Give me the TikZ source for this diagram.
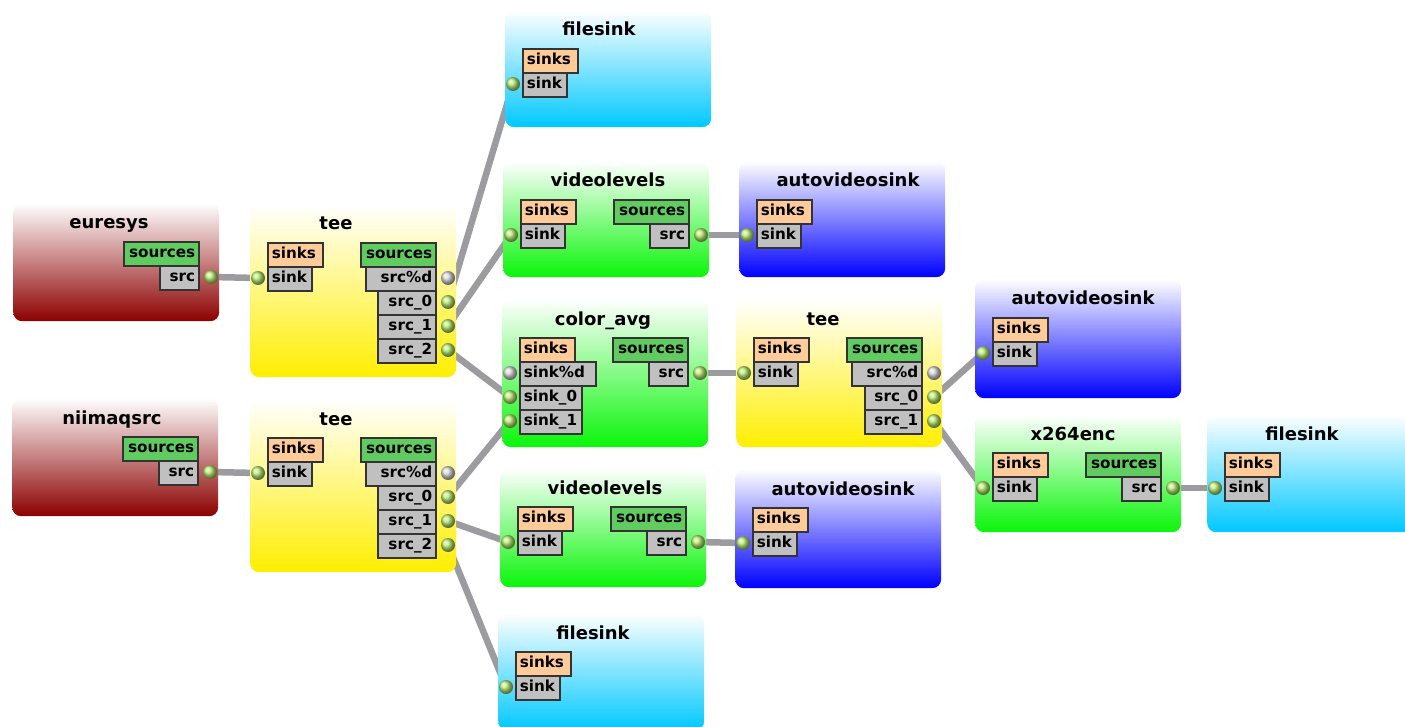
\documentclass[tikz,border=0pt]{standalone}
\usepackage{fontspec}
\setmainfont{DejaVu Sans}
\usetikzlibrary{positioning,backgrounds}
\definecolor{sinkfill}{RGB}{255,204,153}
\definecolor{srcfill}{RGB}{96,204,96}
\definecolor{padgray}{RGB}{192,192,192}
\definecolor{dotgreen}{RGB}{185,235,115}
\definecolor{dotgray}{RGB}{215,215,215}
\definecolor{linkgray}{RGB}{155,155,160}
\definecolor{elred}{RGB}{140,0,0}
\definecolor{elyellow}{RGB}{255,238,0}
\definecolor{elgreen}{RGB}{10,245,10}
\definecolor{elblue}{RGB}{0,0,255}
\definecolor{elcyan}{RGB}{0,200,255}
\newcommand{\titlefont}{\fontsize{18}{20}\selectfont\bfseries}
\newcommand{\padfont}{\fontsize{15.2}{16}\selectfont\bfseries}
\tikzset{
  element/.style={rectangle, rounded corners=9pt, anchor=north west,
    minimum width=206pt, inner sep=0pt, top color=white, bottom color=#1},
  eltitle/.style={font=\titlefont, anchor=base, inner sep=0pt},
  pad/.style={draw=black!80, line width=1.6pt, fill=padgray, minimum height=24pt,
    inner ysep=0pt, inner xsep=4pt, text height=11pt, text depth=3pt, font=\padfont},
  lpad/.style={pad, anchor=north west, align=left, text width=#1},
  rpad/.style={pad, anchor=north east, align=right, text width=#1},
  dot/.style={circle, minimum size=14pt, inner sep=0pt, shading=ball, ball color=dotgreen},
  dotoff/.style={dot, ball color=dotgray},
  link/.style={draw=linkgray, line width=6.5pt}
}
\newcommand{\gstelem}[5]{%
  \node[element=#2, minimum height=#3pt] (#1) at (0,0) {};
  \node[eltitle] (#1-title) at (#4,26) {#5};}
\newcommand{\sinkside}[1]{\node[lpad=47pt, fill=sinkfill] (#1-sinks) at (17,38) {sinks};}
\newcommand{\srcside}[1]{\node[rpad=67pt, fill=srcfill] (#1-sources) at (187,38) {sources};}
\newcommand{\inport}[6]{%
  \node[lpad=#4] (#1-#2-pad) at (17,{38+24*#3}) {#5};
  \node[#6] (#1-#2) at (8,{50+24*#3}) {};}
\newcommand{\outport}[6]{%
  \node[rpad=#4] (#1-#2-pad) at (187,{38+24*#3}) {#5};
  \node[#6] (#1-#2) at (198,{50+24*#3}) {};}

\begin{document}
\begin{tikzpicture}[x=1pt,y=-1pt]
\useasboundingbox (0,0) rectangle (1405,727);

\begin{scope}[shift={(13,203)}]
  \gstelem{euresys}{elred}{118}{96}{euresys}
  \srcside{euresys}
  \outport{euresys}{src}{1}{31pt}{src}{dot}
\end{scope}

\begin{scope}[shift={(250,204)}]
  \gstelem{teeA}{elyellow}{173}{86}{tee}
  \sinkside{teeA}
  \inport{teeA}{sink}{1}{36pt}{sink}{dot}
  \srcside{teeA}
  \outport{teeA}{srcd}{1}{62pt}{src\%d}{dotoff}
  \outport{teeA}{src0}{2}{50pt}{src\_0}{dot}
  \outport{teeA}{src1}{3}{50pt}{src\_1}{dot}
  \outport{teeA}{src2}{4}{50pt}{src\_2}{dot}
\end{scope}

\begin{scope}[shift={(12,398)}]
  \gstelem{niimaq}{elred}{118}{100}{niimaqsrc}
  \srcside{niimaq}
  \outport{niimaq}{src}{1}{31pt}{src}{dot}
\end{scope}

\begin{scope}[shift={(250,399)}]
  \gstelem{teeB}{elyellow}{173}{86}{tee}
  \sinkside{teeB}
  \inport{teeB}{sink}{1}{36pt}{sink}{dot}
  \srcside{teeB}
  \outport{teeB}{srcd}{1}{62pt}{src\%d}{dotoff}
  \outport{teeB}{src0}{2}{50pt}{src\_0}{dot}
  \outport{teeB}{src1}{3}{50pt}{src\_1}{dot}
  \outport{teeB}{src2}{4}{50pt}{src\_2}{dot}
\end{scope}

\begin{scope}[shift={(505,10)}]
  \gstelem{fsinkA}{elcyan}{117}{94}{filesink}
  \sinkside{fsinkA}
  \inport{fsinkA}{sink}{1}{36pt}{sink}{dot}
\end{scope}

\begin{scope}[shift={(503,161)}]
  \gstelem{vlevA}{elgreen}{116}{105}{videolevels}
  \sinkside{vlevA}
  \inport{vlevA}{sink}{1}{36pt}{sink}{dot}
  \srcside{vlevA}
  \outport{vlevA}{src}{1}{31pt}{src}{dot}
\end{scope}

\begin{scope}[shift={(739,161)}]
  \gstelem{avsinkA}{elblue}{116}{109}{autovideosink}
  \sinkside{avsinkA}
  \inport{avsinkA}{sink}{1}{36pt}{sink}{dot}
\end{scope}

\begin{scope}[shift={(502,299)}]
  \gstelem{cavg}{elgreen}{148}{101}{color\_avg}
  \sinkside{cavg}
  \inport{cavg}{sinkd}{1}{68pt}{sink\%d}{dotoff}
  \inport{cavg}{sink0}{2}{54pt}{sink\_0}{dot}
  \inport{cavg}{sink1}{3}{54pt}{sink\_1}{dot}
  \srcside{cavg}
  \outport{cavg}{src}{1}{31pt}{src}{dot}
\end{scope}

\begin{scope}[shift={(736,299)}]
  \gstelem{teeC}{elyellow}{148}{87}{tee}
  \sinkside{teeC}
  \inport{teeC}{sink}{1}{36pt}{sink}{dot}
  \srcside{teeC}
  \outport{teeC}{srcd}{1}{62pt}{src\%d}{dotoff}
  \outport{teeC}{src0}{2}{49pt}{src\_0}{dot}
  \outport{teeC}{src1}{3}{49pt}{src\_1}{dot}
\end{scope}

\begin{scope}[shift={(975,279)}]
  \gstelem{avsinkB}{elblue}{119}{108}{autovideosink}
  \sinkside{avsinkB}
  \inport{avsinkB}{sink}{1}{36pt}{sink}{dot}
\end{scope}

\begin{scope}[shift={(975,414)}]
  \gstelem{xenc}{elgreen}{118}{98}{x264enc}
  \sinkside{xenc}
  \inport{xenc}{sink}{1}{36pt}{sink}{dot}
  \srcside{xenc}
  \outport{xenc}{src}{1}{31pt}{src}{dot}
\end{scope}

\begin{scope}[shift={(1207,414)}]
  \gstelem{fsinkB}{elcyan}{118}{95}{filesink}
  \sinkside{fsinkB}
  \inport{fsinkB}{sink}{1}{36pt}{sink}{dot}
\end{scope}

\begin{scope}[shift={(500,468)}]
  \gstelem{vlevB}{elgreen}{119}{105}{videolevels}
  \sinkside{vlevB}
  \inport{vlevB}{sink}{1}{36pt}{sink}{dot}
  \srcside{vlevB}
  \outport{vlevB}{src}{1}{31pt}{src}{dot}
\end{scope}

\begin{scope}[shift={(735,469)}]
  \gstelem{avsinkC}{elblue}{119}{108}{autovideosink}
  \sinkside{avsinkC}
  \inport{avsinkC}{sink}{1}{36pt}{sink}{dot}
\end{scope}

\begin{scope}[shift={(498,613)}]
  \gstelem{fsinkC}{elcyan}{117}{95}{filesink}
  \sinkside{fsinkC}
  \inport{fsinkC}{sink}{1}{36pt}{sink}{dot}
\end{scope}

\begin{scope}[on background layer]
  \foreach \a/\b in {euresys-src/teeA-sink, teeA-src0/fsinkA-sink,
      teeA-src1/vlevA-sink, teeA-src2/cavg-sink0, niimaq-src/teeB-sink,
      teeB-src0/cavg-sink1, teeB-src1/vlevB-sink, teeB-src2/fsinkC-sink,
      vlevA-src/avsinkA-sink, vlevB-src/avsinkC-sink, cavg-src/teeC-sink,
      teeC-src0/avsinkB-sink, teeC-src1/xenc-sink, xenc-src/fsinkB-sink}
    \draw[link] (\a.center) -- (\b.center);
\end{scope}
\end{tikzpicture}
\end{document}
